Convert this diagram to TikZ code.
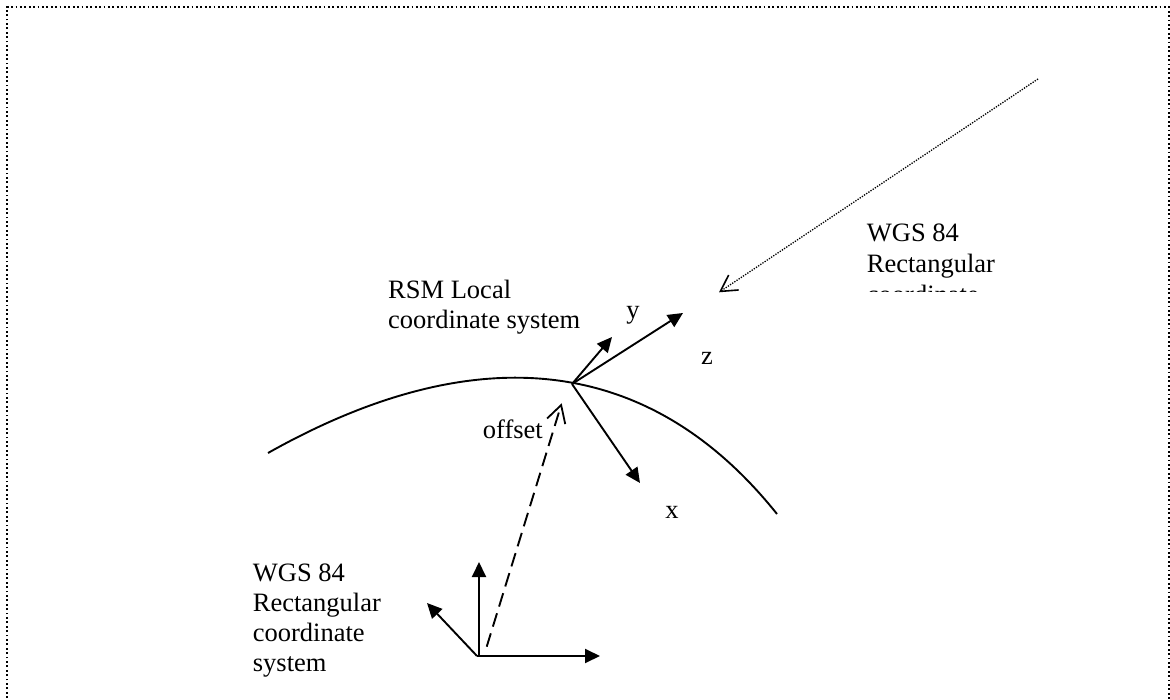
\documentclass[tikz,border=0pt]{standalone}
\usepackage{fontspec}
\setmainfont{Liberation Serif}
\usetikzlibrary{arrows.meta}
\begin{document}
\begin{tikzpicture}[x=1pt,y=-1pt,
  frameline/.style={line width=1.8pt, dash pattern=on 1.8pt off 2.6pt},
  axis/.style={line width=1.9pt, -{Triangle[length=15pt,width=14pt]}},
  curveline/.style={line width=1.9pt},
  dotarrow/.style={line width=1.3pt, dash pattern=on 1.3pt off 1.3pt,
    -{Straight Barb[length=16pt,width=18pt,line width=1.6pt]}},
  dasharrow/.style={line width=1.9pt, dash pattern=on 14pt off 7pt,
    -{Straight Barb[length=17pt,width=19pt,line width=1.8pt]}},
  lbl/.style={font=\fontsize{26.5}{29.8}\selectfont, inner sep=0pt, align=left, anchor=base west},
  ax/.style={font=\fontsize{26.5}{29.8}\selectfont, inner sep=0pt, anchor=base}]
\useasboundingbox (0,0) rectangle (1170,700);
% frame
\coordinate (fbl) at (7,720);
\coordinate (ftl) at (7,7);
\coordinate (ftr) at (1169,7);
\coordinate (fbr) at (1169,720);
\draw[frameline] (fbl) -- (ftl) -- (ftr) -- (fbr);
% curve (earth surface)
\coordinate (cs) at (268,453);
\coordinate (ce) at (777,514);
\draw[curveline] (cs) .. controls (460,345) and (640.2,343) .. (ce);
% local system
\coordinate (lo) at (572,384);
\coordinate (ly) at (612,337);
\coordinate (lz) at (683,313);
\coordinate (lx) at (640,483);
\draw[axis] (lo) -- (ly);
\draw[axis] (lo) -- (lz);
\draw[axis] (lo) -- (lx);
\node[ax] (ylab) at (633,319) {y};
\node[ax] (zlab) at (707,365) {z};
\node[ax] (xlab) at (672,518) {x};
\node[lbl] (rsm) at (388,328.5) {RSM Local\\coordinate system};
% WGS 84 system
\coordinate (wo) at (477,656);
\coordinate (wv0) at (479,656);
\coordinate (wx) at (600,656);
\coordinate (wy) at (479,562);
\coordinate (wd) at (427,603);
\draw[axis] (wo) -- (wx);
\draw[axis] (wv0) -- (wy);
\draw[axis] (wo) -- (wd);
\node[lbl] (wgs) at (252.7,671.1) {WGS 84\\Rectangular\\coordinate\\system};
% offset
\coordinate (os) at (486.7,646.7);
\coordinate (oe) at (561.7,403.3);
\draw[dasharrow] (os) -- (oe);
\node[lbl] (off) at (482.7,438.3) {offset};
% incoming dotted arrow
\coordinate (ds) at (1038,79);
\coordinate (de) at (719,292.3);
\draw[dotarrow] (ds) -- (de);
\begin{scope}
\clip (0,0) rectangle (1170,291.5);
\node[lbl, font=\fontsize{26.5}{30.8}\selectfont] (wgs2) at (866.7,334.1) {WGS 84\\Rectangular\\coordinate\\system};
\end{scope}
\end{tikzpicture}
\end{document}
